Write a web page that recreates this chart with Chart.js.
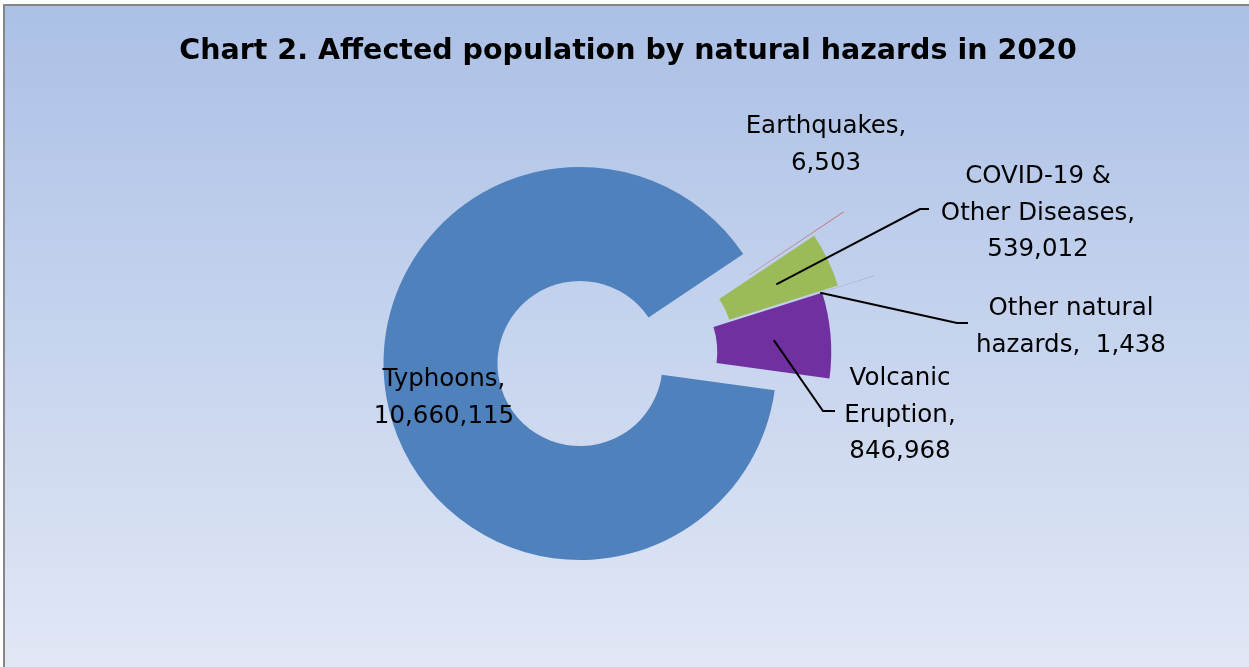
<!DOCTYPE html>
<html>
<head>
<meta charset="utf-8">
<script src="https://cdn.jsdelivr.net/npm/chart.js@4.4.1/dist/chart.umd.min.js"></script>
<style>
  html, body { margin: 0; padding: 0; background: #fff; overflow: hidden; }
  canvas { display: block; }
</style>
</head>
<body>
<canvas id="chart" width="1249" height="667"></canvas>
<script>
// Affected population by hazard type, 2020
const titleText = 'Chart 2. Affected population by natural hazards in 2020';
const categories = ['Typhoons', 'Earthquakes', 'COVID-19 & Other Diseases', 'Other natural hazards', 'Volcanic Eruption'];
const affected = [10660115, 6503, 539012, 1438, 846968];

// how each category name wraps inside its data label
const nameLines = [['Typhoons'], ['Earthquakes'], ['COVID-19 &', 'Other Diseases'], ['Other natural', 'hazards'], ['Volcanic', 'Eruption']];
const valueOnOwnLine = [true, true, true, false, true];

// slice styling
const sliceColors = ['#4F81BD', '#C0504D', '#9BBB59', '#8064A2', '#7030A0'];
// pulled-out distance (px) and direction (deg clockwise from 12 o'clock) per slice
const explodeDist = [0, 109, 73, 111, 56];
const explodeDir = [0, 67, 75, 75, 78];

// data label placement: centre x, first baseline, leader elbow [x, y, end x]
const labelPos = [
  { x: 444, y: 386, leader: null },
  { x: 826, y: 133, leader: null },
  { x: 1038, y: 183, leader: [920, 209, 929] },
  { x: 1071, y: 315, leader: [957, 323, 968] },
  { x: 900, y: 385, leader: [823, 411, 835] }
];
const labelFont = '24.5px "DejaVu Sans"';
const labelLineHeight = 36.7;

function labelLines(i) {
  const names = nameLines[i].slice();
  const value = affected[i].toLocaleString('en-US');
  names[names.length - 1] += ',';
  if (valueOnOwnLine[i]) names.push(value);
  else names[names.length - 1] += '  ' + value;
  return names;
}

// background gradient, frame and title
const frame = {
  id: 'frame',
  beforeDraw(chart) {
    const ctx = chart.ctx, W = chart.width, H = chart.height;
    ctx.save();
    ctx.fillStyle = '#ffffff';
    ctx.fillRect(0, 0, W, H);
    const g = ctx.createLinearGradient(0, 4, 0, H);
    g.addColorStop(0, '#abc0e6');
    g.addColorStop(1, '#e1e7f5');
    ctx.fillStyle = g;
    ctx.fillRect(3, 4, W - 3, H - 4);
    ctx.strokeStyle = '#868686';
    ctx.lineWidth = 2;
    ctx.beginPath();
    ctx.moveTo(4, H);
    ctx.lineTo(4, 5);
    ctx.lineTo(W, 5);
    ctx.stroke();
    ctx.fillStyle = '#000';
    ctx.font = 'bold 28.5px "DejaVu Sans"';
    ctx.textAlign = 'center';
    ctx.textBaseline = 'alphabetic';
    ctx.fillText(titleText, 628, 59);
    ctx.restore();
  }
};

// pull the smaller slices out of the ring
const explode = {
  id: 'explode',
  afterDatasetsUpdate(chart) {
    const meta = chart.getDatasetMeta(0);
    const a = chart.chartArea;
    const cx = (a.left + a.right) / 2, cy = (a.top + a.bottom) / 2;
    meta.data.forEach((arc, i) => {
      const t = explodeDir[i] * Math.PI / 180;
      arc.x = cx + explodeDist[i] * Math.sin(t);
      arc.y = cy - explodeDist[i] * Math.cos(t);
    });
  }
};

// data labels with leader lines
const dataLabels = {
  id: 'dataLabels',
  afterDraw(chart) {
    const ctx = chart.ctx;
    const meta = chart.getDatasetMeta(0);
    ctx.save();
    meta.data.forEach((arc, i) => {
      const pos = labelPos[i];
      if (pos.leader) {
        const c = arc.tooltipPosition();
        const [ex, ey, hx] = pos.leader;
        ctx.strokeStyle = '#000';
        ctx.lineWidth = 2;
        ctx.beginPath();
        ctx.moveTo(c.x, c.y);
        ctx.lineTo(ex, ey);
        ctx.lineTo(hx, ey);
        ctx.stroke();
      }
      ctx.fillStyle = '#000';
      ctx.font = labelFont;
      ctx.textAlign = 'center';
      ctx.textBaseline = 'alphabetic';
      labelLines(i).forEach((line, k) => {
        ctx.fillText(line, pos.x, pos.y + k * labelLineHeight);
      });
    });
    ctx.restore();
  }
};

new Chart(document.getElementById('chart'), {
  type: 'doughnut',
  data: {
    labels: categories,
    datasets: [{
      data: affected,
      backgroundColor: sliceColors,
      borderWidth: 0,
      offset: 0,
      hoverOffset: 0
    }]
  },
  options: {
    responsive: false,
    animation: false,
    events: [],
    rotation: 97.8,
    cutout: '42%',
    layout: { padding: { left: 183, right: 272, top: 167, bottom: 107 } },
    plugins: {
      legend: { display: false },
      tooltip: { enabled: false },
      title: { display: false }
    }
  },
  plugins: [frame, explode, dataLabels]
});
</script>
</body>
</html>
